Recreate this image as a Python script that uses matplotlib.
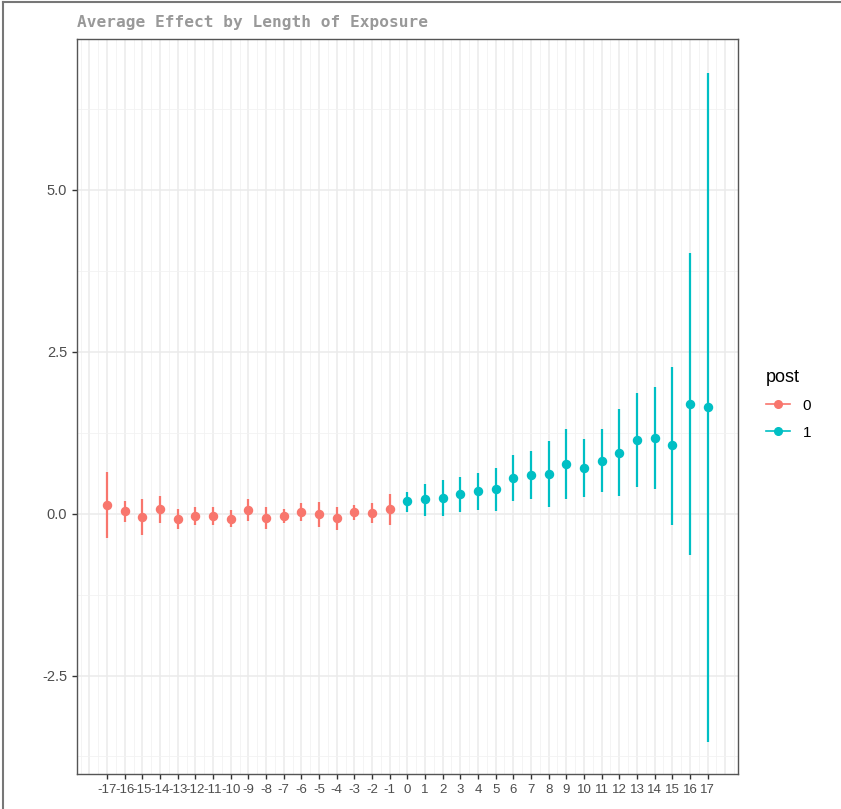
import matplotlib
matplotlib.use("Agg")
import matplotlib.pyplot as plt
from matplotlib.lines import Line2D
import numpy as np

# Data
pre_times = list(range(-17, 0))
pre_est = [0.14, 0.04, -0.05, 0.07, -0.08, -0.04, -0.03, -0.08, 0.06, -0.06,
           -0.04, 0.02, 0.00, -0.07, 0.02, 0.01, 0.07]
pre_lo = [-0.38, -0.13, -0.33, -0.14, -0.24, -0.17, -0.17, -0.21, -0.11, -0.24,
          -0.15, -0.12, -0.20, -0.25, -0.10, -0.15, -0.17]
pre_hi = [0.65, 0.20, 0.23, 0.28, 0.07, 0.10, 0.11, 0.05, 0.23, 0.10,
          0.07, 0.17, 0.18, 0.11, 0.14, 0.17, 0.30]

post_times = list(range(0, 18))
post_est = [0.19, 0.22, 0.24, 0.30, 0.345, 0.38, 0.55, 0.59, 0.62, 0.76,
            0.71, 0.82, 0.94, 1.14, 1.17, 1.06, 1.70, 1.65]
post_lo = [0.02, -0.04, -0.04, 0.02, 0.05, 0.04, 0.20, 0.22, 0.11, 0.22,
           0.26, 0.34, 0.27, 0.41, 0.38, -0.17, -0.64, -3.53]
post_hi = [0.34, 0.46, 0.52, 0.57, 0.63, 0.71, 0.90, 0.97, 1.12, 1.30,
           1.16, 1.31, 1.61, 1.86, 1.95, 2.27, 4.02, 6.81]

x_ticks = list(range(-17, 18))
y_ticks = [-2.5, 0.0, 2.5, 5.0]
y_tick_labels = ["-2.5", "0.0", "2.5", "5.0"]

RED = "#F8766D"
TEAL = "#00BFC4"

fig = plt.figure(figsize=(8.41, 8.09), dpi=100)
ax = fig.add_axes([0.0916, 0.0433, 0.7855, 0.9085])

# grid
for v in np.arange(-18, 19, 1):
    ax.axvline(v, color="#EBEBEB", lw=1.1, zorder=0)
for v in np.arange(-18.5, 19, 1):
    ax.axvline(v, color="#F2F2F2", lw=0.6, zorder=0)
for v in y_ticks:
    ax.axhline(v, color="#EBEBEB", lw=1.1, zorder=0)
for v in [-3.75, -1.25, 1.25, 3.75, 6.25]:
    ax.axhline(v, color="#F2F2F2", lw=0.6, zorder=0)

def draw(times, est, lo, hi, color):
    t = np.array(times); e = np.array(est)
    yerr = np.vstack([e - np.array(lo), np.array(hi) - e])
    ax.errorbar(t, e, yerr=yerr, fmt="o", color=color, ms=5.8,
                elinewidth=1.6, capsize=0, zorder=3)

draw(pre_times, pre_est, pre_lo, pre_hi, RED)
draw(post_times, post_est, post_lo, post_hi, TEAL)

ax.set_xlim(-18.7, 18.7)
ax.set_ylim(-4.02, 7.33)
ax.set_xticks(x_ticks)
ax.set_xticklabels([str(t) for t in x_ticks])
ax.set_yticks(y_ticks)
ax.set_yticklabels(y_tick_labels)
ax.tick_params(axis="both", colors="#333333", length=3.5, width=1,
               labelcolor="#4D4D4D")
ax.tick_params(axis="y", labelsize=10.5)
ax.tick_params(axis="x", labelsize=9.5)
for lab in ax.get_xticklabels() + ax.get_yticklabels():
    lab.set_family("Liberation Sans")
for s in ax.spines.values():
    s.set_color("#555555")
    s.set_linewidth(1.0)

fig.text(77 / 841, 1 - 23 / 809, "Average Effect by Length of Exposure",
         family="DejaVu Sans Mono", fontsize=11.6, color="#999999",
         ha="left", va="center", fontweight="semibold")

handles = [Line2D([0], [0], color=RED, marker="o", ms=5.5, lw=1.2),
           Line2D([0], [0], color=TEAL, marker="o", ms=5.5, lw=1.2)]
leg = fig.legend(handles, ["0", "1"], title="post", frameon=False,
                 loc="upper left", bbox_to_anchor=(752 / 841, 1 - 355 / 809),
                 prop={"family": "Liberation Sans", "size": 11},
                 title_fontproperties={"family": "Liberation Sans", "size": 13},
                 handlelength=1.6, alignment="left", labelspacing=0.85)

# figure border (top and left)
fig.add_artist(Line2D([3 / 841, 3 / 841], [0, 1 - 2 / 809], color="#777777", lw=1.5,
                      transform=fig.transFigure))
fig.add_artist(Line2D([3 / 841, 1], [1 - 2 / 809, 1 - 2 / 809], color="#777777", lw=1.5,
                      transform=fig.transFigure))

fig.savefig("out.png", dpi=100)
